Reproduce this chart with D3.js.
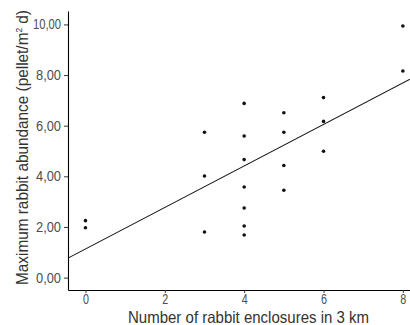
<!DOCTYPE html>
<html>
<head>
<meta charset="utf-8">
<script src="https://cdn.jsdelivr.net/npm/d3@7"></script>
<style>
  body { margin: 0; background: #fff; }
  svg text { font-family: "Liberation Sans Narrow", "Liberation Sans", sans-serif; }
</style>
</head>
<body>
<div id="chart"></div>
<script>
// enclosures within 3 km vs max rabbit abundance
const enclosures = [0, 0, 3, 3, 3, 4, 4, 4, 4, 4, 4, 4, 5, 5, 5, 5, 6, 6, 6, 8, 8];
const abundance = [2.25, 1.97, 5.74, 4.01, 1.80, 6.88, 5.59, 4.66, 3.58, 2.75, 2.04, 1.68,
                   6.51, 5.74, 4.43, 3.45, 7.11, 6.17, 4.99, 9.94, 8.16];
const fit = { intercept: 1.13, slope: 0.82 };
const xTicks = [0, 2, 4, 6, 8];
const yTicks = [0, 2, 4, 6, 8, 10];

const width = 410, height = 325;
const margin = { top: 11, right: 0, bottom: 35, left: 68 };

const svg = d3.select('#chart').append('svg')
  .attr('width', width)
  .attr('height', height);

const x = d3.scaleLinear()
  .domain([-0.44, 8.18])
  .range([margin.left, width - margin.right]);
const y = d3.scaleLinear()
  .domain([-0.49, 10.53])
  .range([height - margin.bottom, margin.top]);

const fmt = d => d3.format('.2f')(d).replace('.', ',');

// axes
const xAxis = svg.append('g')
  .attr('transform', 'translate(0,' + (height - margin.bottom) + ')')
  .call(d3.axisBottom(x).tickValues(xTicks).tickSize(3).tickPadding(1.5).tickSizeOuter(0));
const yAxis = svg.append('g')
  .attr('transform', 'translate(' + margin.left + ',0)')
  .call(d3.axisLeft(y).tickValues(yTicks).tickFormat(fmt).tickSize(4).tickPadding(3).tickSizeOuter(0));

[xAxis, yAxis].forEach(function (g) {
  g.select('.domain').attr('stroke', '#000').attr('stroke-width', 1.1);
  g.selectAll('.tick line').attr('stroke', '#333');
  g.selectAll('.tick text').attr('fill', '#4d4d4d').style('font-size', '14px');
});
xAxis.selectAll('.tick text')
  .attr('textLength', 6).attr('lengthAdjust', 'spacingAndGlyphs');
yAxis.selectAll('.tick text')
  .attr('textLength', d => d >= 10 ? 28 : 25).attr('lengthAdjust', 'spacingAndGlyphs');

// axis titles
svg.append('text')
  .attr('x', 248.5)
  .attr('y', 323)
  .attr('text-anchor', 'middle')
  .attr('fill', '#333')
  .attr('textLength', 241)
  .attr('lengthAdjust', 'spacingAndGlyphs')
  .style('font-size', '16.5px')
  .text('Number of rabbit enclosures in 3 km');

const yt = svg.append('text')
  .attr('transform', 'translate(28,147.5) rotate(-90)')
  .attr('text-anchor', 'middle')
  .attr('fill', '#333')
  .attr('textLength', 275)
  .attr('lengthAdjust', 'spacingAndGlyphs')
  .style('font-size', '16.5px');
yt.append('tspan').text('Maximum rabbit abundance (pellet/m');
yt.append('tspan').attr('dy', -6).style('font-size', '9px').text('2');
yt.append('tspan').attr('dy', 6).text(' d)');

// regression line
const xd = x.domain();
svg.append('line')
  .attr('x1', x(xd[0])).attr('y1', y(fit.intercept + fit.slope * xd[0]))
  .attr('x2', x(xd[1])).attr('y2', y(fit.intercept + fit.slope * xd[1]))
  .attr('stroke', '#111')
  .attr('stroke-width', 1.1);

// points
svg.append('g').selectAll('circle')
  .data(enclosures)
  .enter().append('circle')
  .attr('cx', d => x(d))
  .attr('cy', (d, i) => y(abundance[i]))
  .attr('r', 1.8)
  .attr('fill', '#111');
</script>
</body>
</html>
